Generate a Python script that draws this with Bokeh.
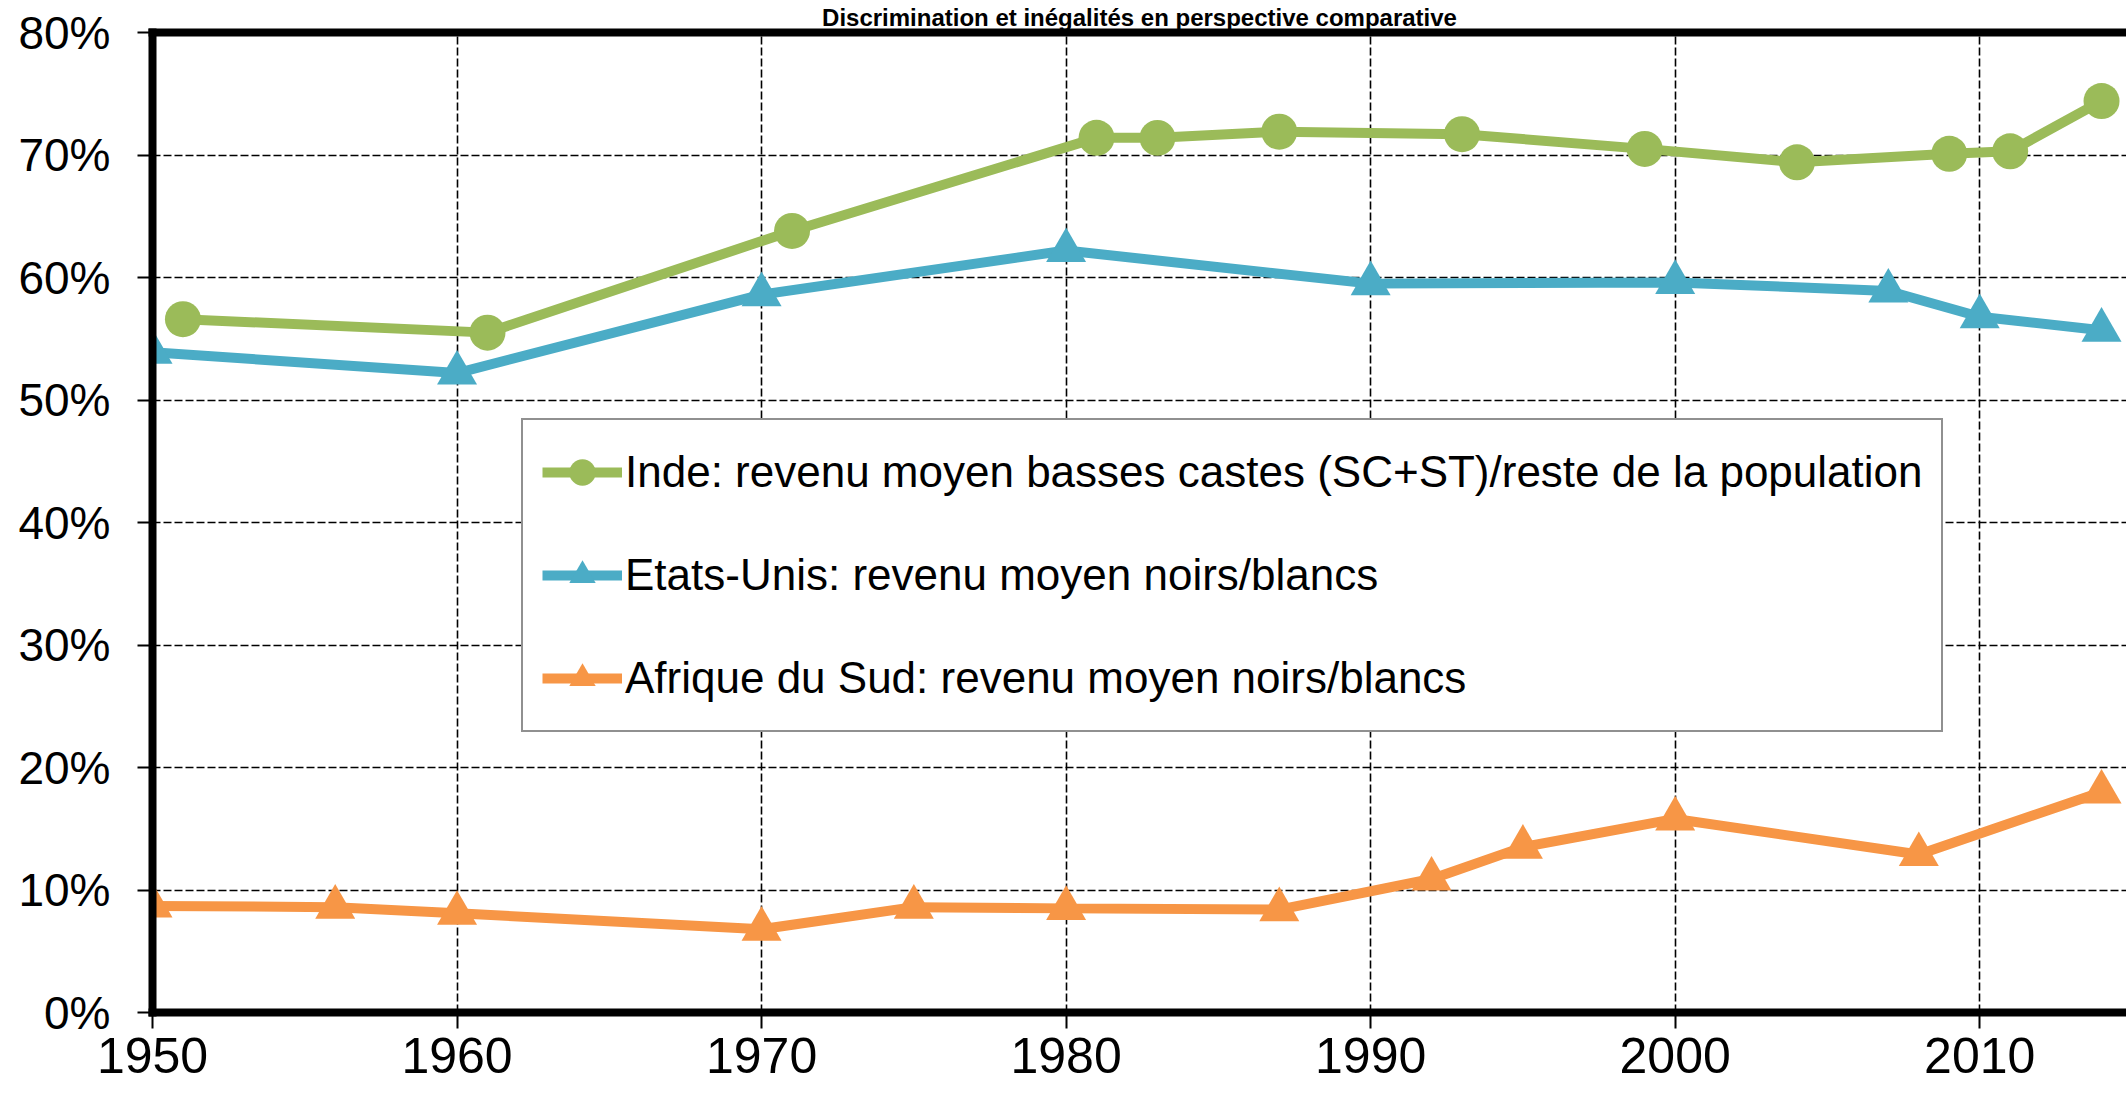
from bokeh.plotting import figure
from bokeh.models import (Legend, LegendItem, LinearAxis, FixedTicker,
                          PrintfTickFormatter, Range1d)
from bokeh.embed import file_html
from bokeh.resources import INLINE

# ---------------- data ----------------
title_text = "Discrimination et inégalités en perspective comparative"

x_ticks = [1950, 1960, 1970, 1980, 1990, 2000, 2010]
y_ticks = [0, 10, 20, 30, 40, 50, 60, 70, 80]

inde_label = "Inde: revenu moyen basses castes (SC+ST)/reste de la population"
inde_years = [1951, 1961, 1971, 1981, 1983, 1987, 1993, 1999, 2004, 2009, 2011, 2014]
inde_values = [56.6, 55.5, 63.8, 71.4, 71.4, 71.9, 71.7, 70.5, 69.4, 70.1, 70.3, 74.4]

us_label = "Etats-Unis: revenu moyen noirs/blancs"
us_years = [1950, 1960, 1970, 1980, 1990, 2000, 2007, 2010, 2014]
us_values = [53.9, 52.2, 58.6, 62.2, 59.5, 59.6, 58.9, 56.8, 55.7]

za_label = "Afrique du Sud: revenu moyen noirs/blancs"
za_years = [1950, 1956, 1960, 1970, 1975, 1980, 1987, 1992, 1995, 2000, 2008, 2014]
za_values = [8.7, 8.6, 8.1, 6.8, 8.6, 8.5, 8.4, 10.9, 13.5, 15.8, 12.9, 18.0]

GREEN = "#9BBB59"
BLUE = "#4BACC6"
ORANGE = "#F79646"
FONT = "Liberation Sans"

# ---------------- figure ----------------
p = figure(width=2126, height=1093,
           x_range=Range1d(1950, 2014.82), y_range=Range1d(0, 80),
           output_backend="svg", toolbar_location=None,
           min_border_left=152, min_border_right=0,
           min_border_top=32, min_border_bottom=81)
p.background_fill_color = "white"
p.border_fill_color = "white"
p.outline_line_color = None

# title (kept in the narrow strip above the frame)
p.title.text = title_text
p.title.align = "center"
p.title.text_font = FONT
p.title.text_font_style = "bold"
p.title.text_font_size = "24px"
p.title.text_color = "black"
p.title.standoff = 3
p.title.offset = 0

# x axis
xa = p.xaxis[0]
xa.ticker = FixedTicker(ticks=x_ticks)
xa.minor_tick_line_color = None
xa.major_tick_out = 16
xa.major_tick_in = 0
xa.major_tick_line_width = 2
xa.major_tick_line_color = "black"
xa.axis_line_width = 8
xa.axis_line_color = "black"
xa.axis_line_cap = "square"
xa.major_label_text_font = FONT
xa.major_label_text_font_size = "50px"
xa.major_label_text_color = "black"
xa.major_label_standoff = 9

# y axis
ya = p.yaxis[0]
ya.ticker = FixedTicker(ticks=y_ticks)
ya.formatter = PrintfTickFormatter(format="%d%%")
ya.minor_tick_line_color = None
ya.major_tick_out = 15
ya.major_tick_in = 0
ya.major_tick_line_width = 2
ya.major_tick_line_color = "black"
ya.axis_line_width = 8
ya.axis_line_color = "black"
ya.axis_line_cap = "square"
ya.major_label_text_font = FONT
ya.major_label_text_font_size = "46px"
ya.major_label_text_color = "black"
ya.major_label_standoff = 27

# top border as an axis line
top = LinearAxis(ticker=FixedTicker(ticks=[]), axis_line_width=8,
                 axis_line_color="black", axis_line_cap="square",
                 major_tick_out=0, major_tick_in=0, minor_tick_out=0,
                 minor_tick_in=0, major_label_standoff=0)
p.add_layout(top, "above")

# grid
for g in (p.xgrid[0], p.ygrid[0]):
    g.grid_line_color = "black"
    g.grid_line_width = 1.6
    g.grid_line_dash = "8 3"
p.xgrid[0].ticker = FixedTicker(ticks=x_ticks)
p.ygrid[0].ticker = FixedTicker(ticks=y_ticks)

# series
r_in_l = p.line(inde_years, inde_values, line_color=GREEN, line_width=10)
r_in_m = p.scatter(inde_years, inde_values, marker="circle", size=36,
                   fill_color=GREEN, line_color=None)
r_us_l = p.line(us_years, us_values, line_color=BLUE, line_width=10)
r_us_m = p.scatter(us_years, us_values, marker="triangle", size=40,
                   fill_color=BLUE, line_color=None)
r_za_l = p.line(za_years, za_values, line_color=ORANGE, line_width=10)
r_za_m = p.scatter(za_years, za_values, marker="triangle", size=40,
                   fill_color=ORANGE, line_color=None)

legend = Legend(items=[
    LegendItem(label=inde_label, renderers=[r_in_l, r_in_m]),
    LegendItem(label=us_label, renderers=[r_us_l, r_us_m]),
    LegendItem(label=za_label, renderers=[r_za_l, r_za_m]),
], location=(369, 280), glyph_width=80, glyph_height=66, spacing=37,
    padding=19, label_standoff=3, margin=0,
    label_text_font=FONT, label_text_font_size="44px", label_text_color="black",
    border_line_color="#222222", border_line_width=2,
    background_fill_color="white", background_fill_alpha=1.0)
p.add_layout(legend)

open("out.html", "w").write(file_html(p, INLINE))
